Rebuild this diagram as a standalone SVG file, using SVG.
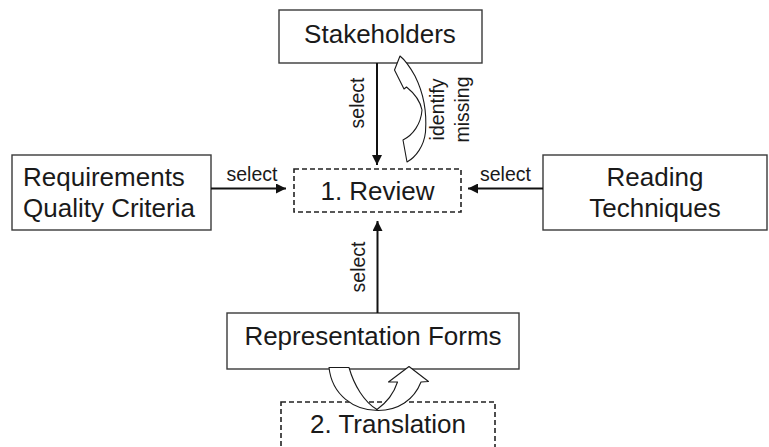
<svg xmlns="http://www.w3.org/2000/svg" width="769" height="447" viewBox="0 0 769 447">
<defs>
<style>
.box{fill:#fff;stroke:#3a3a3a;stroke-width:1.4}
.dash{fill:#fff;stroke:#222;stroke-width:1.6;stroke-dasharray:5,3}
.lbl{font-family:"Liberation Sans",Arial,sans-serif;font-size:26px;fill:#1a1a1a}
.sel{font-family:"Liberation Sans",Arial,sans-serif;font-size:19.5px;fill:#1a1a1a}
.edge{stroke:#111;stroke-width:2;fill:none}
.curv{fill:#fff;stroke:#1a1a1a;stroke-width:1.1;stroke-linejoin:round}
</style>
<marker id="ah" viewBox="0 0 10 10" refX="10" refY="5" markerWidth="10" markerHeight="10" markerUnits="userSpaceOnUse" orient="auto">
<path d="M0,0 L10,5 L0,10 Z" fill="#111"/>
</marker>
</defs>
<rect width="769" height="447" fill="#fff"/>
<g id="stakeholders">
<rect class="box" x="279" y="10" width="203" height="53"/>
<text class="lbl" x="380" y="43" text-anchor="middle">Stakeholders</text>
</g>
<g id="review">
<rect class="dash" x="294" y="169" width="167" height="43"/>
<text class="lbl" x="377.5" y="200" text-anchor="middle">1. Review</text>
</g>
<g id="requirements">
<rect class="box" x="12" y="155" width="199" height="75"/>
<text class="lbl" x="23" y="186">Requirements</text>
<text class="lbl" x="23" y="217">Quality Criteria</text>
</g>
<g id="reading">
<rect class="box" x="543" y="155" width="224" height="75"/>
<text class="lbl" x="655" y="186" text-anchor="middle">Reading</text>
<text class="lbl" x="655" y="217" text-anchor="middle">Techniques</text>
</g>
<g id="representation">
<rect class="box" x="227" y="313" width="292" height="56"/>
<text class="lbl" x="373" y="345" text-anchor="middle">Representation Forms</text>
</g>
<g id="translation">
<rect class="dash" x="281" y="402" width="214" height="60"/>
<text class="lbl" x="388" y="433" text-anchor="middle">2. Translation</text>
</g>
<g id="connectors">
<line class="edge" x1="377" y1="63" x2="377" y2="165" marker-end="url(#ah)"/>
<text class="sel" transform="translate(364,103) rotate(-90)" text-anchor="middle">select</text>
<line class="edge" x1="211" y1="188.5" x2="286" y2="188.5" marker-end="url(#ah)"/>
<text class="sel" x="252" y="181" text-anchor="middle">select</text>
<line class="edge" x1="543" y1="188.5" x2="468" y2="188.5" marker-end="url(#ah)"/>
<text class="sel" x="505.5" y="181" text-anchor="middle">select</text>
<line class="edge" x1="377.5" y1="313" x2="377.5" y2="221" marker-end="url(#ah)"/>
<text class="sel" transform="translate(365,267) rotate(-90)" text-anchor="middle">select</text>
<path class="curv" d="M400,56 L394.5,70 L404,89 L406.5,87 C414,93 420,100 422,110 C421,124 413,135 403,140 L407,162 C416,157 424,146 425.5,132 C427,112 423,92 415,76 C410,67 405,60 400,56 Z"/>
<text class="sel" transform="translate(444,109.5) rotate(-90)" text-anchor="middle">identify</text>
<text class="sel" transform="translate(469,109.5) rotate(-90)" text-anchor="middle">missing</text>
<path class="curv" d="M329,367.5 L349,367.5 C354,385 364,402 377,409.5 C386,403 394,393 397.5,382 L388.5,382 L409,366.5 L428.5,381.5 L421,382 C414,400 398,410.5 378,410.5 C354,410.5 332,395 329,367.5 Z"/>
</g>
</svg>
